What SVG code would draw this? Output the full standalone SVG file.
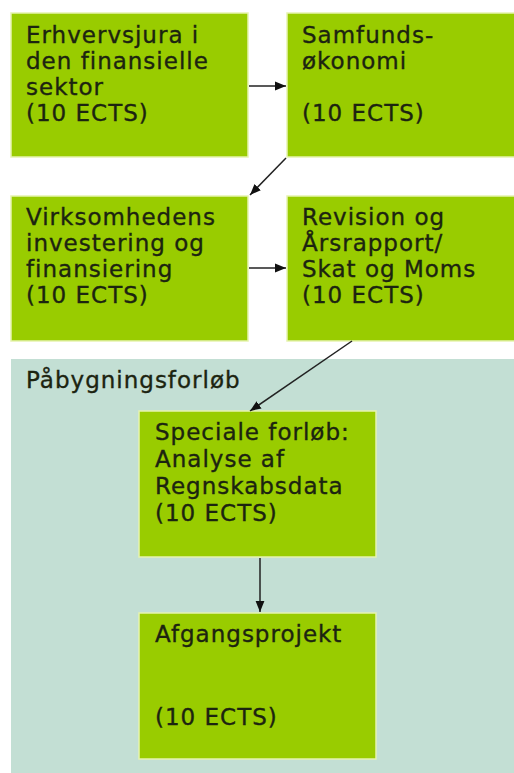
<svg xmlns="http://www.w3.org/2000/svg" width="514" height="773" viewBox="0 0 514 773">
<defs>
<marker id="ah" viewBox="0 0 10 10" refX="10" refY="5" markerWidth="11" markerHeight="11" markerUnits="userSpaceOnUse" orient="auto">
<path d="M0,1 L10,5 L0,9 Z" fill="#111"/>
</marker>
</defs>
<style>
.box{fill:#99cc00;stroke:#e6f3b0;stroke-width:1.5}
.t{font-family:"DejaVu Sans",Verdana,sans-serif;font-size:23px;letter-spacing:1px;fill:#1c2410;stroke:#1c2410;stroke-width:0.35}
.c{stroke:#222;stroke-width:1.5;fill:none}
</style>
<rect x="0" y="0" width="514" height="773" fill="#ffffff"/>
<g id="group-paabygning">
<rect x="11" y="359" width="503" height="414" fill="#c3dfd4"/>
<text class="t" x="26" y="388">Påbygningsforløb</text>
</g>
<g id="node-erhvervsjura">
<rect class="box" x="11" y="13" width="237" height="144"/>
<text class="t" x="26" y="43">Erhvervsjura i</text>
<text class="t" x="26" y="69">den finansielle</text>
<text class="t" x="26" y="95">sektor</text>
<text class="t" x="26" y="121">(10 ECTS)</text>
</g>
<g id="node-samfund">
<rect class="box" x="287" y="13" width="230" height="144"/>
<text class="t" x="302" y="43">Samfunds-</text>
<text class="t" x="302" y="69">økonomi</text>
<text class="t" x="302" y="121">(10 ECTS)</text>
</g>
<g id="node-virksomhed">
<rect class="box" x="11" y="196" width="237" height="145"/>
<text class="t" x="26" y="225">Virksomhedens</text>
<text class="t" x="26" y="251">investering og</text>
<text class="t" x="26" y="277">finansiering</text>
<text class="t" x="26" y="303">(10 ECTS)</text>
</g>
<g id="node-revision">
<rect class="box" x="287" y="196" width="230" height="145"/>
<text class="t" x="302" y="225">Revision og</text>
<text class="t" x="302" y="251">Årsrapport/</text>
<text class="t" x="302" y="277">Skat og Moms</text>
<text class="t" x="302" y="303">(10 ECTS)</text>
</g>
<g id="node-speciale">
<rect class="box" x="139" y="411" width="237" height="146"/>
<text class="t" x="155" y="440">Speciale forløb:</text>
<text class="t" x="155" y="467">Analyse af</text>
<text class="t" x="155" y="494">Regnskabsdata</text>
<text class="t" x="155" y="521">(10 ECTS)</text>
</g>
<g id="node-afgang">
<rect class="box" x="139" y="613" width="237" height="146"/>
<text class="t" x="155" y="642">Afgangsprojekt</text>
<text class="t" x="155" y="725">(10 ECTS)</text>
</g>
<g id="connectors">
<line class="c" x1="249" y1="86" x2="286" y2="86" marker-end="url(#ah)"/>
<line class="c" x1="286" y1="158" x2="250" y2="195" marker-end="url(#ah)"/>
<line class="c" x1="249" y1="268" x2="286" y2="268" marker-end="url(#ah)"/>
<line class="c" x1="352" y1="341" x2="250" y2="411" marker-end="url(#ah)"/>
<line class="c" x1="260" y1="558" x2="260" y2="612" marker-end="url(#ah)"/>
</g>
</svg>
